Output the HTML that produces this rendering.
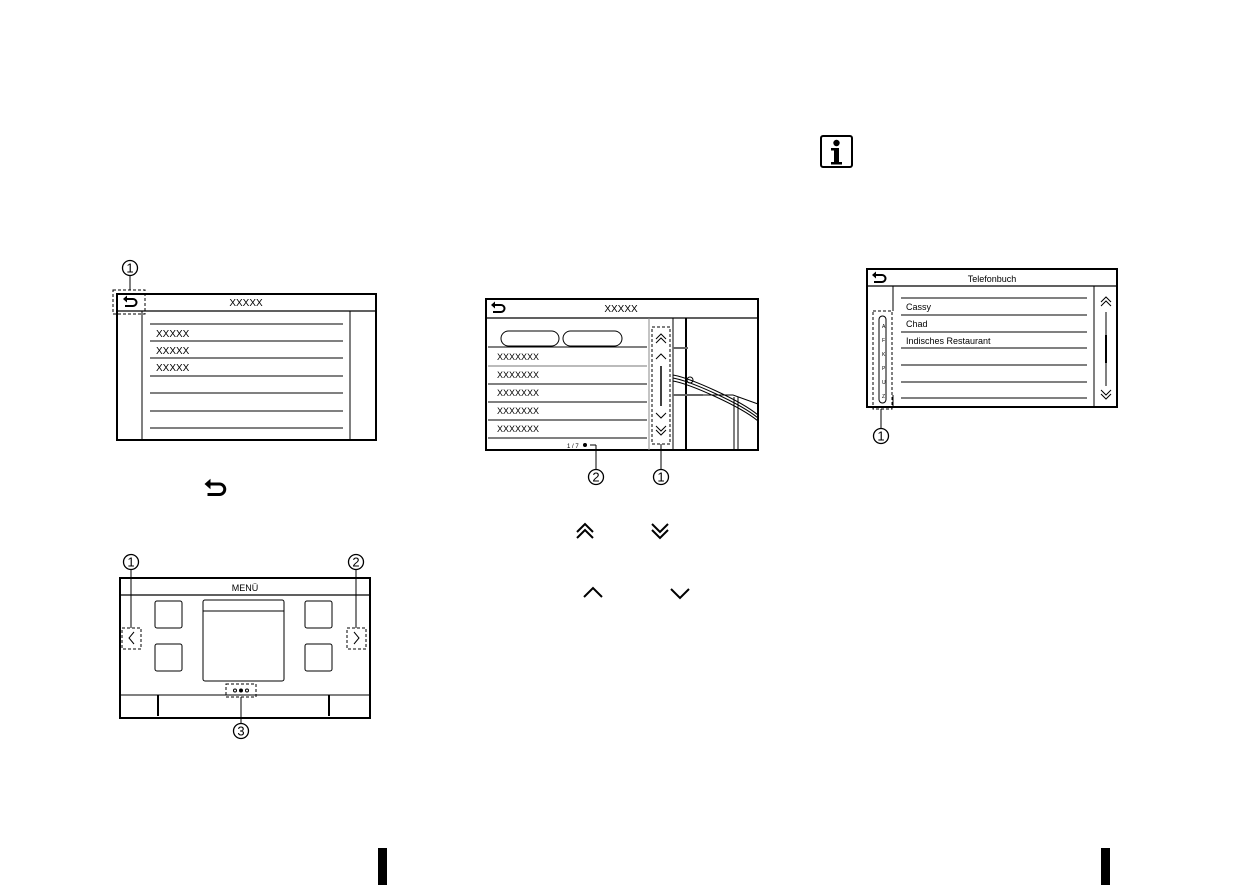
<!DOCTYPE html>
<html><head><meta charset="utf-8"><style>html,body{margin:0;padding:0;background:#fff}svg{display:block}</style></head><body>
<svg width="1237" height="885" viewBox="0 0 1237 885" xmlns="http://www.w3.org/2000/svg" font-family="Liberation Sans, sans-serif">
<defs>
<g id="back"><path d="M-5,-2 H3 A3.5,3.5 0 0 1 3,5 H-5" fill="none" stroke="#000" stroke-width="2"/><path d="M-7,-2 L-3,-5.5 L-3,1.5 Z" fill="#000"/></g>
</defs>
<g fill="none" stroke="#000">
<rect x="117" y="294" width="259" height="146" stroke-width="2"/>
<line x1="117" y1="311" x2="376" y2="311" stroke-width="1.2"/>
<line x1="142" y1="311" x2="142" y2="440"/>
<line x1="350" y1="311" x2="350" y2="440"/>
<g stroke-width="1"><line x1="150" y1="324" x2="343" y2="324"/><line x1="150" y1="341" x2="343" y2="341"/><line x1="150" y1="358" x2="343" y2="358"/><line x1="150" y1="376" x2="343" y2="376"/><line x1="150" y1="393" x2="343" y2="393"/><line x1="150" y1="411" x2="343" y2="411"/><line x1="150" y1="428" x2="343" y2="428"/></g>
<rect x="113" y="290" width="32" height="24" stroke-dasharray="3,2" stroke-width="1"/>
<circle cx="130" cy="268" r="7.5" stroke-width="1.3"/><line x1="130" y1="276" x2="130" y2="290"/>
<rect x="486" y="299" width="272" height="151" stroke-width="2"/>
<line x1="486" y1="318" x2="758" y2="318" stroke-width="1.2"/>
<rect x="501" y="331" width="58" height="15" rx="7.5"/><rect x="563" y="331" width="59" height="15" rx="7.5"/>
<line x1="488" y1="347" x2="647" y2="347"/><line x1="488" y1="366" x2="647" y2="366" stroke="#777"/><line x1="488" y1="384" x2="647" y2="384"/><line x1="488" y1="402" x2="647" y2="402"/><line x1="488" y1="420" x2="647" y2="420"/><line x1="488" y1="438" x2="647" y2="438"/>
<line x1="649" y1="318" x2="649" y2="450" stroke="#888"/>
<rect x="652" y="327" width="18" height="117" stroke-dasharray="3,2"/>
<path d="M656,339 l5,-5 l5,5 M656,343 l5,-5 l5,5 M656,359 l5,-5 l5,5 M656,413 l5,5 l5,-5 M656,426 l5,5 l5,-5 M656,430 l5,5 l5,-5"/>
<line x1="661" y1="366" x2="661" y2="406" stroke-width="1.5"/>
<line x1="673" y1="318" x2="673" y2="450"/><line x1="686" y1="318" x2="686" y2="450" stroke-width="2"/>
<line x1="673" y1="348" x2="688" y2="348" stroke-width="2" stroke="#666"/><line x1="673" y1="395" x2="703" y2="395" stroke-width="2" stroke="#666"/>
<path d="M673,375 C690,378 740,400 758,415 M673,378 C690,381 740,403 758,418 M673,381 C690,384 740,406 758,421" stroke-width="1"/>
<path d="M703,395 L733,395 L758,404 M734,397 V450 M738,397 V450" stroke-width="1"/>
<circle cx="690" cy="380" r="3"/>
<line x1="590" y1="445" x2="596" y2="445"/><circle cx="585" cy="445" r="1.5" fill="#000"/>
<line x1="596" y1="445" x2="596" y2="469"/><circle cx="596" cy="477" r="7.5" stroke-width="1.3"/>
<line x1="661" y1="444" x2="661" y2="469"/><circle cx="661" cy="477" r="7.5" stroke-width="1.3"/>
<rect x="867" y="269" width="250" height="138" stroke-width="2"/>
<line x1="867" y1="286" x2="1117" y2="286" stroke-width="1.2"/>
<line x1="893" y1="286" x2="893" y2="311"/><line x1="893" y1="395" x2="893" y2="407"/>
<line x1="1094" y1="286" x2="1094" y2="407"/>
<g><line x1="901" y1="298" x2="1087" y2="298"/><line x1="901" y1="315" x2="1087" y2="315"/><line x1="901" y1="332" x2="1087" y2="332"/><line x1="901" y1="348" x2="1087" y2="348"/><line x1="901" y1="365" x2="1087" y2="365"/><line x1="901" y1="382" x2="1087" y2="382"/><line x1="901" y1="398" x2="1087" y2="398"/></g>
<rect x="873" y="311" width="19" height="98" stroke-dasharray="3,2"/>
<rect x="879" y="316" width="7" height="87" rx="3.5"/>
<path d="M1101,302 l5,-5 l5,5 M1101,306 l5,-5 l5,5 M1101,390 l5,5 l5,-5 M1101,394 l5,5 l5,-5"/>
<line x1="1106" y1="312" x2="1106" y2="386"/><line x1="1106" y1="335" x2="1106" y2="363" stroke-width="2"/>
<line x1="881" y1="409" x2="881" y2="428"/><circle cx="881" cy="436" r="7.5" stroke-width="1.3"/>
<rect x="821" y="136" width="31" height="31" rx="2" stroke-width="2"/>
<rect x="120" y="578" width="250" height="140" stroke-width="2"/>
<line x1="120" y1="595" x2="370" y2="595" stroke-width="1.2"/>
<rect x="155" y="601" width="27" height="27" rx="2"/><rect x="155" y="644" width="27" height="27" rx="2"/>
<rect x="305" y="601" width="27" height="27" rx="2"/><rect x="305" y="644" width="27" height="27" rx="2"/>
<rect x="203" y="600" width="81" height="81" rx="2"/><line x1="203" y1="611" x2="284" y2="611"/>
<line x1="120" y1="695" x2="370" y2="695"/>
<line x1="158" y1="695" x2="158" y2="716" stroke-width="2"/><line x1="329" y1="695" x2="329" y2="716" stroke-width="2"/>
<rect x="122" y="628" width="19" height="21" stroke-dasharray="3,2"/><rect x="347" y="628" width="19" height="21" stroke-dasharray="3,2"/>
<path d="M134,632 l-5,6 l5,6 M354,632 l5,6 l-5,6"/>
<rect x="226" y="684" width="30" height="13" stroke-dasharray="3,2"/>
<circle cx="235" cy="690.5" r="1.5"/><circle cx="241" cy="690.5" r="1.5" fill="#000"/><circle cx="247" cy="690.5" r="1.5"/>
<line x1="131" y1="570" x2="131" y2="628"/><circle cx="131" cy="562" r="7.5" stroke-width="1.3"/>
<line x1="356" y1="570" x2="356" y2="628"/><circle cx="356" cy="562" r="7.5" stroke-width="1.3"/>
<line x1="241" y1="697" x2="241" y2="723"/><circle cx="241" cy="731" r="7.5" stroke-width="1.3"/>
<path d="M577,538 l8,-8 l8,8 M577,532 l8,-8 l8,8 M652,524 l8,8 l8,-8 M652,530 l8,8 l8,-8 M584,597 l9,-9 l9,9 M671,589 l9,9 l9,-9" stroke-width="2"/>
</g>
<use href="#back" x="130" y="301"/><use href="#back" x="498" y="307"/><use href="#back" x="879" y="277"/>
<g transform="translate(215,487) scale(1.5)"><use href="#back"/></g>
<circle cx="836.5" cy="143" r="3.2" fill="#000"/><path d="M831,148 h8 v14 h3 v2.5 h-11 v-2.5 h3 v-11.5 h-3 z" fill="#000"/>
<g font-size="13" text-anchor="middle" fill="#000"><text x="130" y="272.5">1</text><text x="596" y="481.5">2</text><text x="661" y="481.5">1</text><text x="881" y="440.5">1</text><text x="131" y="566.5">1</text><text x="356" y="566.5">2</text><text x="241" y="735.5">3</text></g>
<g font-size="10" fill="#000">
<text x="246" y="306" text-anchor="middle">XXXXX</text>
<text x="156" y="337">XXXXX</text><text x="156" y="354">XXXXX</text><text x="156" y="371">XXXXX</text>
<text x="621" y="312" text-anchor="middle">XXXXX</text>
<text x="497" y="360" font-size="9">XXXXXXX</text><text x="497" y="378" font-size="9">XXXXXXX</text><text x="497" y="396" font-size="9">XXXXXXX</text><text x="497" y="414" font-size="9">XXXXXXX</text><text x="497" y="432" font-size="9">XXXXXXX</text>
<text x="567" y="448" font-size="6">1 / 7</text>
<text x="992" y="282" text-anchor="middle" font-size="9">Telefonbuch</text>
<text x="906" y="310" font-size="9">Cassy</text><text x="906" y="327" font-size="9">Chad</text><text x="906" y="344" font-size="9">Indisches Restaurant</text>
<text x="245" y="591" text-anchor="middle" font-size="9">MENÜ</text>
<text x="882" y="328" font-size="5">A</text><text x="882" y="342" font-size="5">F</text><text x="882" y="356" font-size="5">K</text><text x="882" y="370" font-size="5">P</text><text x="882" y="384" font-size="5">U</text><text x="882" y="398" font-size="5">Z</text>
</g>
<rect x="378" y="848" width="9" height="37" fill="#000"/><rect x="1101" y="848" width="9" height="37" fill="#000"/>
</svg>
</body></html>
